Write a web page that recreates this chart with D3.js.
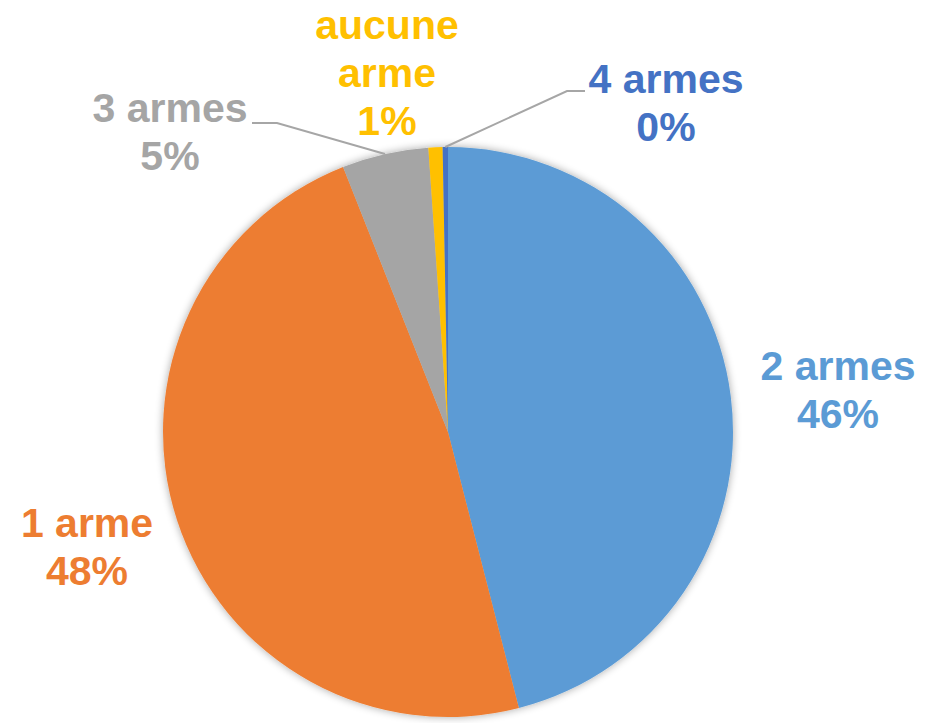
<!DOCTYPE html>
<html>
<head>
<meta charset="utf-8">
<script src="https://cdn.jsdelivr.net/npm/d3@7"></script>
<style>
  html, body { margin: 0; padding: 0; background: #fff; }
  svg { display: block; }
</style>
</head>
<body>
<svg id="chart"></svg>
<script>
// slices, clockwise from 12 o'clock
const categories = ["2 armes", "1 arme", "3 armes", "aucune arme", "4 armes"];
const values = [46.0, 48.0, 4.9, 0.8, 0.3];
const colors = ["#5B9BD5", "#ED7D31", "#A5A5A5", "#FFC000", "#4472C4"];

// label text lines (category name split like the original)
const labelLines = [["2 armes"], ["1 arme"], ["3 armes"], ["aucune", "arme"], ["4 armes"]];

// label anchor (center x, first baseline) and leader elbows
const labelPos = [
  { x: 838, y: 380 },
  { x: 87, y: 537 },
  { x: 170, y: 122 },
  { x: 387, y: 39 },
  { x: 666, y: 93 }
];
const leaders = {
  2: [[277, 123], [252, 123]],
  4: [[567, 91], [585, 91]]
};

const width = 933, height = 723;
const cx = 448, cy = 432, radius = 285;
const lineH = 48;

const svg = d3.select("#chart").attr("width", width).attr("height", height);

const defs = svg.append("defs");
const filter = defs.append("filter").attr("id", "glow")
  .attr("x", "-10%").attr("y", "-10%").attr("width", "120%").attr("height", "120%");
filter.append("feGaussianBlur").attr("in", "SourceAlpha").attr("stdDeviation", 4).attr("result", "blur");
filter.append("feComponentTransfer").attr("in", "blur").attr("result", "soft")
  .append("feFuncA").attr("type", "linear").attr("slope", 0.35);
const merge = filter.append("feMerge");
merge.append("feMergeNode").attr("in", "soft");
merge.append("feMergeNode").attr("in", "SourceGraphic");

const pie = d3.pie().value(d => d).sort(null);
const arcs = pie(values);
const arc = d3.arc().innerRadius(0).outerRadius(radius);
const total = d3.sum(values);
const pct = d3.format(".0%");

const g = svg.append("g").attr("transform", `translate(${cx},${cy})`);

g.append("g").attr("filter", "url(#glow)")
  .selectAll("path")
  .data(arcs)
  .enter().append("path")
  .attr("d", arc)
  .attr("fill", (d, i) => colors[i]);

// leader lines from the arc edge to the label
const edge = d3.arc().innerRadius(radius).outerRadius(radius);
Object.keys(leaders).forEach(k => {
  const i = +k;
  const [ex, ey] = edge.centroid(arcs[i]);
  const pts = [[cx + ex, cy + ey]].concat(leaders[i]);
  svg.append("path")
    .attr("d", d3.line()(pts))
    .attr("fill", "none")
    .attr("stroke", "#A6A6A6")
    .attr("stroke-width", 2);
});

// labels
categories.forEach((c, i) => {
  const lines = labelLines[i].concat([pct(values[i] / total)]);
  const t = svg.append("text")
    .attr("x", labelPos[i].x)
    .attr("y", labelPos[i].y)
    .attr("text-anchor", "middle")
    .attr("font-family", "Liberation Sans, Arial, sans-serif")
    .attr("font-weight", "bold")
    .attr("font-size", 41)
    .attr("fill", colors[i]);
  lines.forEach((l, j) => {
    t.append("tspan")
      .attr("x", labelPos[i].x)
      .attr("y", labelPos[i].y + j * lineH)
      .text(l);
  });
});
</script>
</body>
</html>
